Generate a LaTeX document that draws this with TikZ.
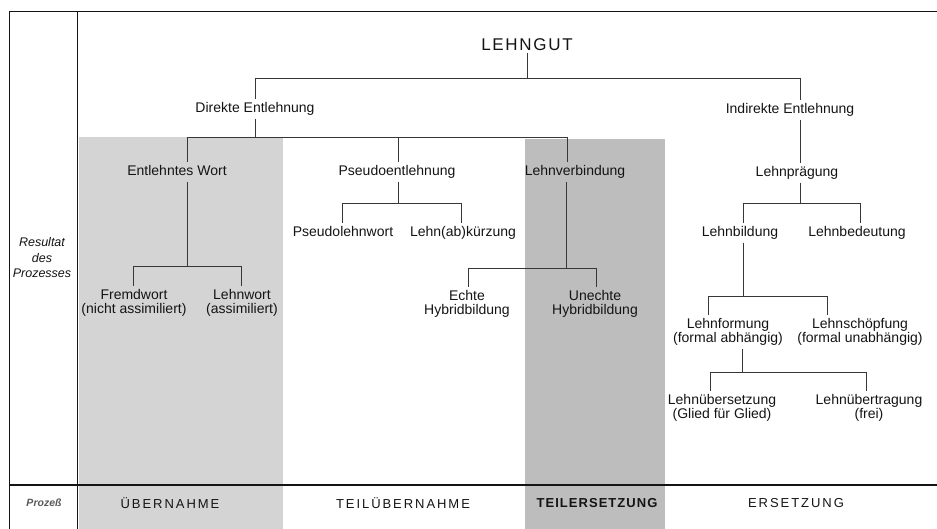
\documentclass[tikz,border=0pt]{standalone}
\usepackage{fontspec}
\setmainfont{Liberation Sans}
\newfontfamily\spacedfont[LetterSpace=15]{Liberation Sans}
\newfontfamily\spacedboldfont[LetterSpace=8]{Liberation Sans Bold}
\newfontfamily\titlefont[LetterSpace=10]{Liberation Sans}
\usetikzlibrary{calc}
\definecolor{shadeA}{HTML}{D4D4D4}
\definecolor{shadeB}{HTML}{BDBDBD}
\definecolor{ink}{HTML}{141414}
\begin{document}
\begin{tikzpicture}[x=1pt,y=-1pt,
  lbl/.style={text=ink, font=\fontsize{14}{14}\selectfont, inner sep=3pt, text height=10pt, text depth=3pt},
  lbltwo/.style={text=ink, font=\fontsize{14}{14}\selectfont, align=center, inner sep=3pt},
  br/.style={draw=ink!85, line width=0.7pt},
  framel/.style={draw=ink, line width=0.9pt},
  proc/.style={text=ink, font=\spacedfont\fontsize{13}{13}\selectfont}
]
\useasboundingbox (0,0) rectangle (937,529);
% shaded columns
\fill[shadeA] (79,137) rectangle (283,529);
\fill[shadeB] (525,139) rectangle (665,529);
% frame
\draw[framel] (9,529) -- (9,11) -- (937,11);
\draw[framel] (77,11) -- (77,529);
\draw[framel, line width=1.2pt] (9,485) -- (937,485);

% nodes
\node[text=ink, font=\titlefont\fontsize{17}{17}\selectfont, inner sep=3pt, text height=12.5pt, text depth=0pt] (lehngut) at (527,44) {LEHNGUT};
\node[lbl] (direkte) at (255,109) {Direkte Entlehnung};
\node[lbl] (indirekte) at (790,110) {Indirekte Entlehnung};
\node[lbl] (entw) at (177,172) {Entlehntes Wort};
\node[lbl] (pseudo) at (397,172) {Pseudoentlehnung};
\node[lbl] (lverb) at (575,172) {Lehnverbindung};
\node[lbl] (lpraeg) at (797,173) {Lehnprägung};
\node[lbl] (plw) at (343,233) {Pseudolehnwort};
\node[lbl] (lak) at (463,233) {Lehn(ab)kürzung};
\node[lbl] (lbild) at (740,233) {Lehnbildung};
\node[lbl] (lbed) at (857,233) {Lehnbedeutung};
\node[lbltwo] (fremd) at (134,303) {Fremdwort\\(nicht assimiliert)};
\node[lbltwo] (lw) at (242,303) {Lehnwort\\(assimiliert)};
\node[lbltwo] (echt) at (467,304) {Echte\\Hybridbildung};
\node[lbltwo] (unecht) at (595,304) {Unechte\\Hybridbildung};
\node[lbltwo] (lform) at (728,332) {Lehnformung\\(formal abhängig)};
\node[lbltwo] (lschoepf) at (860,332) {Lehnschöpfung\\(formal unabhängig)};
\node[lbltwo] (lueb) at (722,408) {Lehnübersetzung\\(Glied für Glied)};
\node[lbltwo] (luet) at (869,408) {Lehnübertragung\\(frei)};

\node[text=ink, font=\itshape\fontsize{12.5}{15.5}\selectfont, align=center] (res) at (42,258) {Resultat\\des\\Prozesses};
\node[text=black!65, font=\bfseries\itshape\fontsize{10.5}{10.5}\selectfont] (prozess) at (44,503) {Prozeß};

\node[proc] (uebernahme) at (170,503) {ÜBERNAHME};
\node[proc] (teiluebernahme) at (403,503) {TEILÜBERNAHME};
\node[text=ink, font=\spacedboldfont\fontsize{13}{13}\selectfont] (teilersetzung) at (597,503) {TEILERSETZUNG};
\node[proc] (ersetzung) at (796,503) {ERSETZUNG};

% junction coordinates
\coordinate (a0) at (527,78); \coordinate (a1) at (255,78); \coordinate (a2) at (800,78);
\coordinate (b0) at (255,137); \coordinate (b1) at (187,137); \coordinate (b2) at (398,137); \coordinate (b3) at (567,137);
\coordinate (c0) at (187,266); \coordinate (c1) at (133,266); \coordinate (c2) at (241,266);
\coordinate (d0) at (398,203); \coordinate (d1) at (342,203); \coordinate (d2) at (461,203);
\coordinate (e0) at (566,268); \coordinate (e1) at (468,268); \coordinate (e2) at (596,268);
\coordinate (f0) at (800,203); \coordinate (f1) at (743,203); \coordinate (f2) at (860,203);
\coordinate (g0) at (743,296); \coordinate (g1) at (708,296); \coordinate (g2) at (827,296);
\coordinate (h0) at (742,372); \coordinate (h1) at (710,372); \coordinate (h2) at (866,372);

% LEHNGUT
\draw[br] (lehngut.south -| a0) -- (a0);
\draw[br] (a1) -- (a2);
\draw[br] (a1) -- (a1 |- direkte.north);
\draw[br] (a2) -- (a2 |- indirekte.north);
% Direkte Entlehnung
\draw[br] (direkte.south -| b0) -- (b0);
\draw[br] (b1) -- (b3);
\draw[br] (b1) -- (b1 |- entw.north);
\draw[br] (b2) -- (b2 |- pseudo.north);
\draw[br] (b3) -- (b3 |- lverb.north);
% Indirekte Entlehnung
\draw[br] (indirekte.south -| a2) -- (a2 |- lpraeg.north);
% Entlehntes Wort
\draw[br] (entw.south -| c0) -- (c0);
\draw[br] (c1) -- (c2);
\draw[br] (c1) -- (c1 |- fremd.north);
\draw[br] (c2) -- (c2 |- lw.north);
% Pseudoentlehnung
\draw[br] (pseudo.south -| d0) -- (d0);
\draw[br] (d1) -- (d2);
\draw[br] (d1) -- (d1 |- plw.north);
\draw[br] (d2) -- (d2 |- lak.north);
% Lehnverbindung
\draw[br] (lverb.south -| e0) -- (e0);
\draw[br] (e1) -- (e2);
\draw[br] (e1) -- (e1 |- echt.north);
\draw[br] (e2) -- (e2 |- unecht.north);
% Lehnpraegung
\draw[br] (lpraeg.south -| f0) -- (f0);
\draw[br] (f1) -- (f2);
\draw[br] (f1) -- (f1 |- lbild.north);
\draw[br] (f2) -- (f2 |- lbed.north);
% Lehnbildung
\draw[br] (lbild.south -| g0) -- (g0);
\draw[br] (g1) -- (g2);
\draw[br] (g1) -- (g1 |- lform.north);
\draw[br] (g2) -- (g2 |- lschoepf.north);
% Lehnformung
\draw[br] (lform.south -| h0) -- (h0);
\draw[br] (h1) -- (h2);
\draw[br] (h1) -- (h1 |- lueb.north);
\draw[br] (h2) -- (h2 |- luet.north);
\end{tikzpicture}
\end{document}
